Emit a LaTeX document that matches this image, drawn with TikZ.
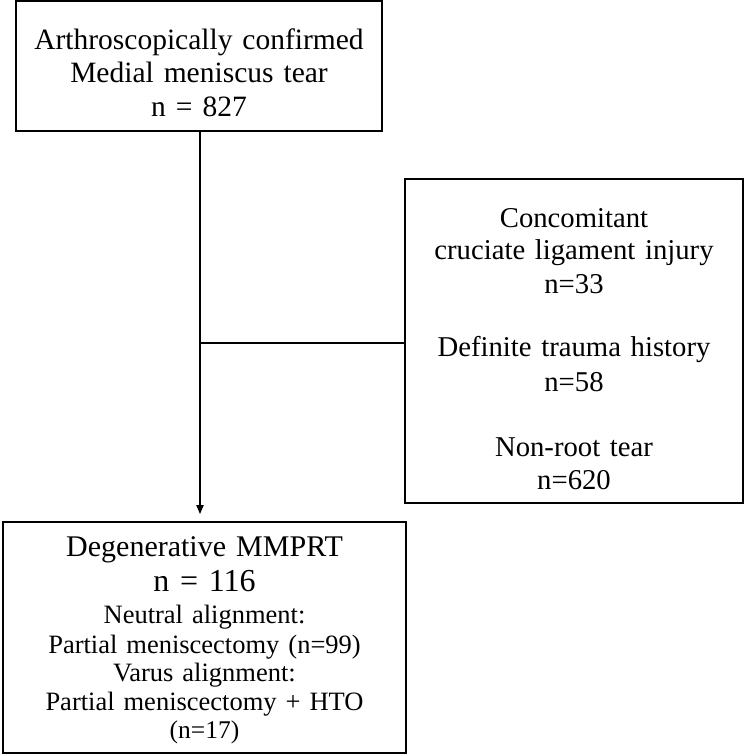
\documentclass[tikz,border=0pt]{standalone}
\usepackage{fontspec}
\setmainfont{Liberation Serif}[WordSpace=1.35]
\usetikzlibrary{arrows.meta}
\begin{document}
\begin{tikzpicture}[x=1pt,y=-1pt,
  box/.style={draw, line width=1.7pt, inner sep=0pt},
  conn/.style={line width=1.8pt},
  txtA/.style={anchor=base, inner sep=0pt, font=\fontsize{29.5}{32}\selectfont},
  txtB/.style={anchor=base, inner sep=0pt, font=\fontsize{28.7}{32}\selectfont},
  txtT/.style={anchor=base, inner sep=0pt, font=\fontsize{30}{32}\selectfont},
  txtC/.style={anchor=base, inner sep=0pt, font=\fontsize{26.5}{28}\selectfont},
  txtE/.style={anchor=base, inner sep=0pt, font=\fontsize{25.5}{28}\selectfont},
  txtD/.style={anchor=base, inner sep=0pt, font=\fontsize{32}{34}\selectfont}]
\useasboundingbox (0,0) rectangle (744,754);
% boxes
\node[box, minimum width=366pt, minimum height=130pt] (top) at (199,66) {};
\node[box, minimum width=338pt, minimum height=324pt] (excl) at (574,341) {};
\node[box, minimum width=403pt, minimum height=231pt] (bot) at (204.5,637.5) {};
% top text
\node[txtA] (t1) at (199,50) {Arthroscopically confirmed};
\node[txtA] (t2) at (199,83) {Medial meniscus tear};
\node[txtA] (t3) at (199,117) {n = 827};
% exclusion text
\node[txtB] (e1) at (574,227) {Concomitant};
\node[txtB] (e2) at (574,259) {cruciate ligament injury};
\node[txtB] (e3) at (574,293) {n=33};
\node[txtB] (e4) at (574,356) {Definite trauma history};
\node[txtB] (e5) at (574,391) {n=58};
\node[txtB] (e6) at (574,456) {Non-root tear};
\node[txtB] (e7) at (574,489) {n=620};
% bottom text
\node[txtT] (b1) at (204.5,556) {Degenerative MMPRT};
\node[txtD] (b2) at (204.5,591) {n = 116};
\node[txtC] (b3) at (204.5,623) {Neutral alignment:};
\node[txtC] (b4) at (204.5,653) {Partial meniscectomy (n=99)};
\node[txtC] (b5) at (204.5,681) {Varus alignment:};
\node[txtC] (b6) at (204.5,710) {Partial meniscectomy + HTO};
\node[txtE] (b7) at (204.5,738) {(n=17)};
% connectors
\coordinate (j) at (200,343);
\draw[conn] (top.south -| j) -- (j);
\draw[conn, -{Triangle[length=9pt,width=7pt]}, shorten >=7pt] (j) -- (j |- bot.north);
\draw[conn, line width=2.6pt] (j) -- (j -| excl.west);
\end{tikzpicture}
\end{document}
